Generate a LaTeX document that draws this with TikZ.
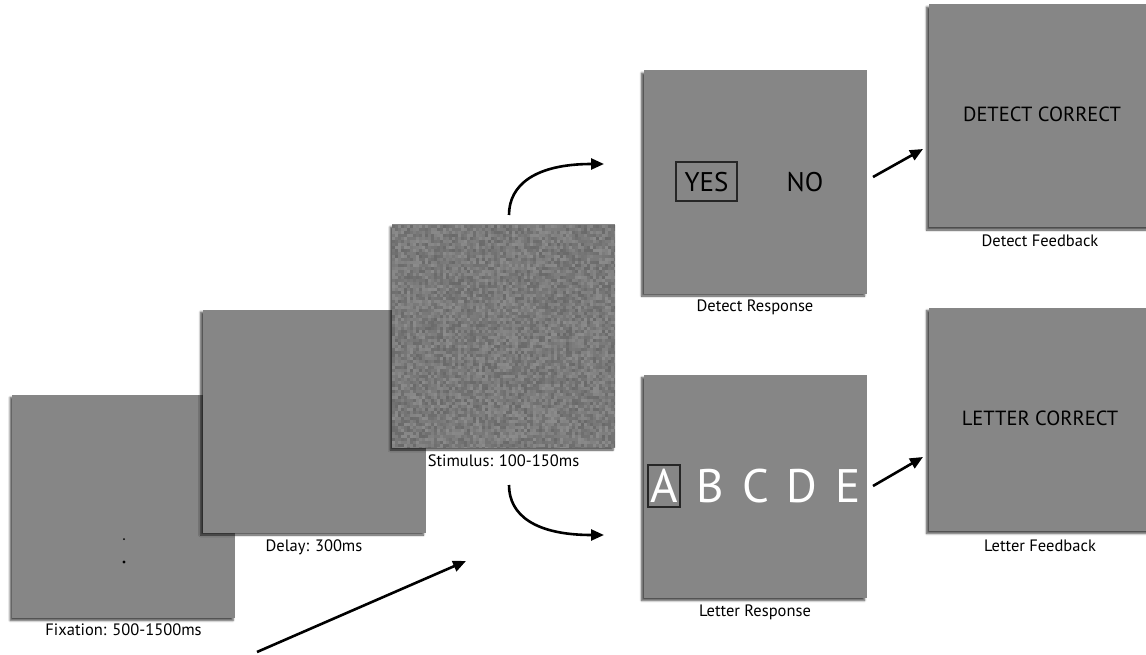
\documentclass[tikz,border=0pt]{standalone}
\usepackage{fontspec}
\setmainfont{PT Sans}
\usetikzlibrary{arrows.meta,shadows.blur}
\definecolor{panelgray}{RGB}{134,134,134}
\tikzset{
  panel/.style={draw=none, fill=panelgray, minimum width=223pt, minimum height=223pt, inner sep=0pt,
    blur shadow={shadow xshift=-2pt, shadow yshift=-2.5pt, shadow blur steps=5, shadow blur radius=2pt, shadow opacity=70}},
  caption/.style={anchor=north, inner sep=0pt, font=\fontsize{16.5}{19}\selectfont, text=black},
  paneltext/.style={inner sep=0pt, font=\fontsize{20.5}{23}\selectfont, text=black},
  choice/.style={inner sep=0pt, font=\fontsize{27}{30}\selectfont, text=black},
  letter/.style={inner sep=0pt, font=\fontsize{47}{50}\selectfont, text=white},
  selbox/.style={draw=black!85, line width=1.1pt, fill=none, inner sep=0pt},
  flow/.style={line width=2.6pt, -{Triangle[length=13pt,width=11pt]}},
}
\begin{document}
\begin{tikzpicture}[x=1pt,y=-1pt]
\useasboundingbox (0,0) rectangle (1146,655);
% Fixation
\node[panel] (fix) at (123.5,506.5) {};
\fill[black] (124,539) circle (1pt);
\fill[black] (124,562) circle (1.7pt);
\node[caption] (fixl) at (123.5,624) {Fixation: 500-1500ms};
% Delay
\node[panel] (delay) at (314,421) {};
\node[caption] (delayl) at (314,540) {Delay: 300ms};
% Stimulus
\node[panel] (stim) at (503.5,336) {};
\pgfmathsetseed{7}
\begin{scope}
\clip (392,225) rectangle (615,447);
\foreach \i in {0,...,74}{
  \foreach \j in {0,...,74}{
    \pgfmathsetmacro{\g}{rnd*14+45}
    \fill[black!\g!white] (392+3*\i,225+3*\j) rectangle ++(3,3);
  }
}
\end{scope}
\node[caption] (stiml) at (503.5,455) {Stimulus: 100-150ms};
% Detect response
\node[panel] (detr) at (755,182) {};
\node[selbox, minimum width=61pt, minimum height=39pt] (yesbox) at (706.5,181.5) {};
\node[choice] (yes) at (706.5,182) {YES};
\node[choice] (no) at (805,182) {NO};
\node[caption] (detrl) at (755,300) {Detect Response};
% Letter response
\node[panel] (letr) at (755,486.5) {};
\node[selbox, minimum width=32pt, minimum height=42pt] (abox) at (664,486) {};
\node[letter] (la) at (664,486) {A};
\node[letter] (lb) at (710,486) {B};
\node[letter] (lc) at (756,486) {C};
\node[letter] (ld) at (802,486) {D};
\node[letter] (le) at (848,486) {E};
\node[caption] (letrl) at (755,605) {Letter Response};
% Detect feedback
\node[panel] (detf) at (1040,116) {};
\node[paneltext] (dc) at (1042,114) {DETECT CORRECT};
\node[caption] (detfl) at (1040,235) {Detect Feedback};
% Letter feedback
\node[panel] (letf) at (1040,419.5) {};
\node[paneltext] (lc2) at (1040,418) {LETTER CORRECT};
\node[caption] (letfl) at (1040,540) {Letter Feedback};
% arrows
\coordinate (a0) at (257,652);
\coordinate (a1) at (466,561);
\draw[flow] (a0) -- (a1);
\coordinate (t0) at (509,215);
\coordinate (t1) at (604,164);
\draw[flow] (t0) .. controls (509,185) and (535,164) .. (t1);
\coordinate (b0) at (509,485);
\coordinate (b1) at (604,535);
\draw[flow] (b0) .. controls (509,515) and (535,535) .. (b1);
\coordinate (d0) at (873,177);
\coordinate (d1) at (923,149);
\draw[flow] (d0) -- (d1);
\coordinate (e0) at (873,486);
\coordinate (e1) at (923,457);
\draw[flow] (e0) -- (e1);
\end{tikzpicture}
\end{document}
